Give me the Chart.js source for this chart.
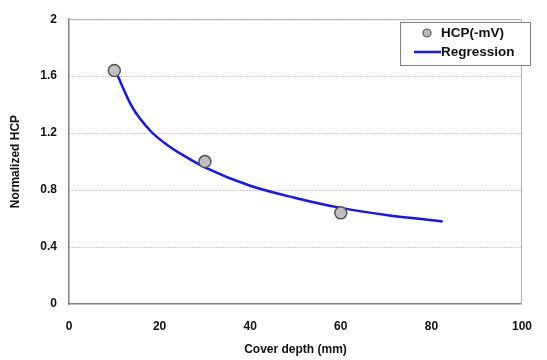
<!DOCTYPE html>
<html>
<head>
<meta charset="utf-8">
<script src="https://cdn.jsdelivr.net/npm/chart.js@4/dist/chart.umd.min.js"></script>
<style>
  html, body { margin: 0; padding: 0; background: #fff; }
  #wrap { width: 547px; height: 360px; }
</style>
</head>
<body>
<div id="wrap"><canvas id="myChart" width="547" height="360"></canvas></div>
<script>
// measured points
const depthX = [10, 30, 60];
const hcpY = [1.64, 1.0, 0.64];

// regression curve
const regX = [10.5, 14, 18, 22, 26, 30, 40, 50, 60, 70, 82.5];
const regY = [1.62, 1.38, 1.215, 1.11, 1.03, 0.96, 0.83, 0.745, 0.675, 0.625, 0.58];

const xTicks = [0, 20, 40, 60, 80, 100];
const yTicks = [0, 0.4, 0.8, 1.2, 1.6, 2];

const font = { family: "'Liberation Sans', Arial, sans-serif", size: 12, weight: 'bold' };

// plot frame + legend box drawn inside the chart area
const framePlugin = {
    id: 'frame',
    afterDatasetsDraw(chart) {
        const { ctx, chartArea: a } = chart;
        ctx.save();
        ctx.strokeStyle = '#b0b0b0';
        ctx.lineWidth = 1;
        ctx.beginPath();
        ctx.moveTo(a.left, a.top + 0.5);
        ctx.lineTo(a.right - 0.5, a.top + 0.5);
        ctx.lineTo(a.right - 0.5, a.bottom);
        ctx.stroke();

        // legend
        const bx = 400.5, by = 22.5, bw = 130, bh = 43;
        ctx.fillStyle = '#fff';
        ctx.fillRect(bx, by, bw, bh);
        ctx.strokeStyle = '#808080';
        ctx.strokeRect(bx, by, bw, bh);

        ctx.beginPath();
        ctx.arc(427, 33, 4, 0, Math.PI * 2);
        ctx.fillStyle = '#b8b8b8';
        ctx.fill();
        ctx.strokeStyle = '#555';
        ctx.lineWidth = 1.2;
        ctx.stroke();

        ctx.beginPath();
        ctx.moveTo(414, 52);
        ctx.lineTo(441, 52);
        ctx.strokeStyle = '#1414ff';
        ctx.lineWidth = 2.5;
        ctx.stroke();

        ctx.fillStyle = '#111';
        ctx.font = "bold 13.5px 'Liberation Sans', Arial, sans-serif";
        ctx.textBaseline = 'middle';
        ctx.fillText('HCP(-mV)', 441, 33);
        ctx.fillText('Regression', 441, 52);
        ctx.restore();
    }
};

new Chart(document.getElementById('myChart'), {
    type: 'scatter',
    data: {
        datasets: [{
            label: 'Regression',
            type: 'line',
            data: regX.map((x, i) => ({ x: x, y: regY[i] })),
            borderColor: '#1414ff',
            borderWidth: 2.5,
            pointRadius: 0,
            cubicInterpolationMode: 'monotone',
            fill: false,
            order: 2
        }, {
            label: 'HCP(-mV)',
            data: depthX.map((x, i) => ({ x: x, y: hcpY[i] })),
            backgroundColor: '#c0c0c0',
            borderColor: '#555',
            borderWidth: 1.5,
            pointRadius: 6,
            order: 1
        }]
    },
    options: {
        responsive: false,
        animation: false,
        layout: { padding: { top: 17, right: 14, left: 0, bottom: 0 } },
        plugins: {
            legend: { display: false },
            tooltip: { enabled: false }
        },
        scales: {
            x: {
                type: 'linear',
                min: 0,
                max: 100,
                afterBuildTicks: s => { s.ticks = xTicks.map(v => ({ value: v })); },
                afterFit: s => { s.height = 56; },
                grid: { display: false, drawTicks: false },
                border: { display: true, color: '#808080', width: 1.5 },
                ticks: { font: font, color: '#111', padding: 15, maxRotation: 0 },
                title: {
                    display: true,
                    text: 'Cover depth (mm)',
                    font: font,
                    color: '#111',
                    padding: { top: 0, bottom: 3 }
                }
            },
            y: {
                min: 0,
                max: 2,
                afterBuildTicks: s => { s.ticks = yTicks.map(v => ({ value: v })); },
                afterFit: s => { s.width = 69; },
                grid: {
                    color: ctx => (ctx.tick && ctx.tick.value === 0) ? 'rgba(0,0,0,0)' : '#9a9a9a',
                    drawTicks: false
                },
                border: { display: true, color: '#808080', width: 1.5, dash: [1, 2] },
                ticks: {
                    font: font,
                    color: '#111',
                    padding: 12,
                    callback: v => String(v)
                },
                title: {
                    display: true,
                    text: 'Normalized HCP',
                    font: font,
                    color: '#111',
                    padding: { top: 8, bottom: 4 }
                }
            }
        }
    },
    plugins: [framePlugin]
});
</script>
</body>
</html>
